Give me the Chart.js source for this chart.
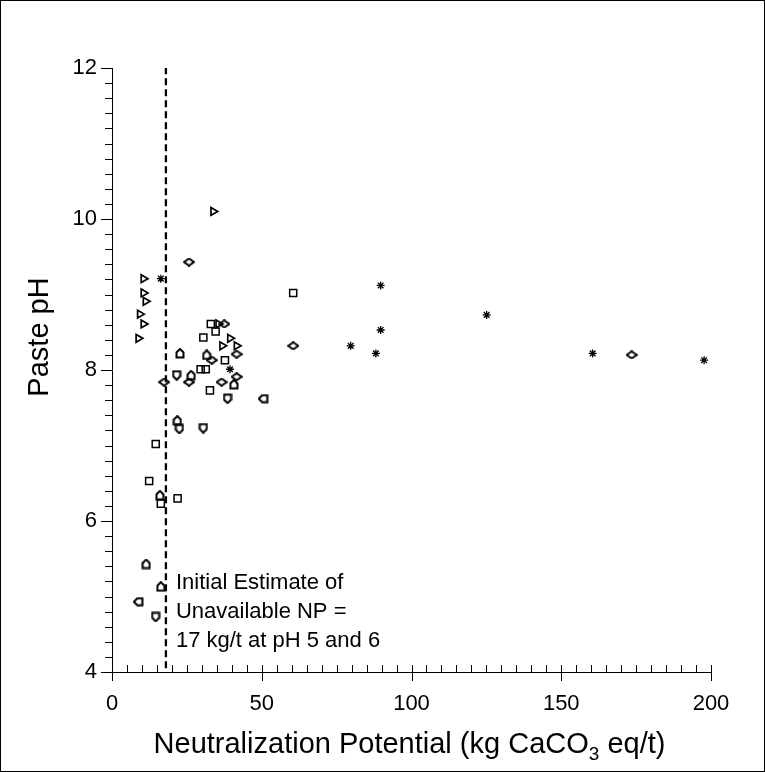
<!DOCTYPE html>
<html>
<head>
<meta charset="utf-8">
<title>Paste pH vs Neutralization Potential</title>
<script src="https://cdn.jsdelivr.net/npm/chart.js@4.4.1/dist/chart.umd.min.js"></script>
<style>
  html, body { margin: 0; padding: 0; background: #fff; }
  canvas { display: block; }
</style>
</head>
<body>
<canvas id="phChart" width="765" height="772"></canvas>
<script>
(function () {
  'use strict';

  /* ─── Data ─── */
  const squareNP   = [33.0, 34.6, 30.5, 37.7, 29.6, 31.3, 32.7, 14.6, 12.4, 16.3, 21.9, 60.5];
  const squarePH   = [8.61, 8.51, 8.43, 8.13, 8.01, 8.01, 7.73, 7.02, 6.53, 6.23, 6.30, 9.02];

  const triangleNP = [33.8, 10.5, 10.5, 11.2, 9.3, 10.5, 8.8, 39.4, 36.8, 41.6, 35.5];
  const trianglePH = [10.1, 9.21, 9.02, 8.91, 8.74, 8.61, 8.42, 8.42, 8.32, 8.32, 8.61];

  const diamondNP  = [25.7, 37.5, 41.6, 33.3, 41.6, 25.7, 17.4, 36.6, 60.5, 173.5];
  const diamondPH  = [9.43, 8.61, 8.21, 8.13, 7.91, 7.84, 7.84, 7.84, 8.32, 8.20];

  const starNP     = [16.3, 39.4, 89.7, 125.1, 89.7, 79.7, 88.1, 160.5, 197.7];
  const starPH     = [9.21, 8.01, 9.12, 8.73, 8.53, 8.32, 8.22, 8.22, 8.13];

  const pentNP     = [22.7, 31.6, 21.6, 26.4, 40.7, 38.6, 50.5, 21.8, 22.5, 30.5, 16.0, 11.4, 16.3, 8.8, 14.6];
  const pentPH     = [8.22, 8.20, 7.93, 7.93, 7.81, 7.62, 7.62, 7.33, 7.22, 7.23, 6.34, 5.43, 5.13, 4.93, 4.73];

  const UNAVAILABLE_NP = 18;
  const PH_RANGE       = [4, 12];
  const X_TICKS        = [0, 50, 100, 150, 200];
  const Y_TICKS        = [4, 6, 8, 10, 12];

  const NOTE_LINES = ['Initial Estimate of', 'Unavailable NP =', '17 kg/t at pH 5 and 6'];

  const FONT = "'Liberation Sans', Arial, sans-serif";
  const INK  = '#000';

  // orientation of the pentagon markers (style only)
  const pentTurn = [0, 0, 180, 0, 0, 180, 270, 0, 180, 180, 0, 0, 0, 270, 180];

  function pairs(xs, ys) {
    return xs.map(function (v, i) { return { x: v, y: ys[i] }; });
  }

  /* ─── Custom marker canvases ─── */
  function markerCanvas(w, h, draw) {
    const c = document.createElement('canvas');
    c.width = w; c.height = h;
    const g = c.getContext('2d');
    g.strokeStyle = INK;
    g.lineWidth = 2;
    g.lineJoin = 'miter';
    g.beginPath();
    draw(g, w, h);
    g.closePath();
    g.stroke();
    return c;
  }

  const diamondMark = markerCanvas(12, 9, function (g, w, h) {
    g.moveTo(1, h / 2); g.lineTo(w / 2, 1); g.lineTo(w - 1, h / 2); g.lineTo(w / 2, h - 1);
  });

  const pentMark = markerCanvas(10, 11, function (g, w, h) {
    g.moveTo(1.5, h - 1.5); g.lineTo(1.5, 4.5); g.lineTo(w / 2, 1); g.lineTo(w - 1.5, 4.5); g.lineTo(w - 1.5, h - 1.5);
  });

  /* ─── Plugins ─── */
  const frame = {
    id: 'frame',
    beforeDraw(chart) {
      const ctx = chart.ctx;
      ctx.save();
      ctx.fillStyle = '#fff';
      ctx.fillRect(0, 0, chart.width, chart.height);
      ctx.strokeStyle = INK;
      ctx.lineWidth = 1;
      ctx.strokeRect(0.5, 0.5, chart.width - 1, chart.height - 1);
      ctx.restore();
    }
  };

  const axisDecor = {
    id: 'axisDecor',
    afterDraw(chart) {
      const ctx = chart.ctx;
      const x = chart.scales.x;
      const y = chart.scales.y;
      ctx.save();
      ctx.strokeStyle = INK;
      ctx.lineWidth = 1;
      ctx.beginPath();
      // x: minor every 5, major every 50
      for (let v = 0; v <= 200; v += 5) {
        const px = Math.round(x.getPixelForValue(v)) + 0.5;
        const major = v % 50 === 0;
        ctx.moveTo(px, y.bottom - 7);
        ctx.lineTo(px, major ? y.bottom + 9 : y.bottom);
      }
      // y: minor every 0.2, major every 2
      for (let k = 0; k <= 40; k++) {
        const v = PH_RANGE[0] + k * 0.2;
        const py = Math.round(y.getPixelForValue(v)) + 0.5;
        const major = k % 10 === 0;
        ctx.moveTo(x.left - (major ? 11 : 7), py);
        ctx.lineTo(x.left, py);
      }
      ctx.stroke();

      ctx.fillStyle = INK;
      // y title
      ctx.save();
      ctx.translate(40, 337);
      ctx.rotate(-Math.PI / 2);
      ctx.font = '29px ' + FONT;
      ctx.textAlign = 'center';
      ctx.textBaseline = 'middle';
      ctx.fillText('Paste pH', 0, 0);
      ctx.restore();

      // x title with subscript
      const parts = ['Neutralization Potential (kg CaCO', '3', ' eq/t)'];
      ctx.textBaseline = 'alphabetic';
      ctx.font = '29px ' + FONT;
      const w1 = ctx.measureText(parts[0]).width;
      const w3 = ctx.measureText(parts[2]).width;
      ctx.font = '19px ' + FONT;
      const w2 = ctx.measureText(parts[1]).width;
      let tx = (x.left + x.right) / 2 - 2 - (w1 + w2 + w3) / 2;
      const base = 753;
      ctx.textAlign = 'left';
      ctx.font = '29px ' + FONT;
      ctx.fillText(parts[0], tx, base);
      tx += w1;
      ctx.font = '19px ' + FONT;
      ctx.fillText(parts[1], tx, base + 7);
      tx += w2;
      ctx.font = '29px ' + FONT;
      ctx.fillText(parts[2], tx, base);

      // note beside the dashed line
      ctx.font = '22px ' + FONT;
      ctx.textBaseline = 'middle';
      const noteX = x.getPixelForValue(UNAVAILABLE_NP) + 10;
      NOTE_LINES.forEach(function (line, i) {
        ctx.fillText(line, noteX, 583 + i * 29);
      });
      ctx.restore();
    }
  };

  function pointSet(label, xs, ys, style, radius, extra) {
    return Object.assign({
      type: 'scatter',
      label: label,
      data: pairs(xs, ys),
      pointStyle: style,
      pointRadius: radius,
      pointHoverRadius: radius,
      borderColor: INK,
      backgroundColor: 'rgba(0,0,0,0)',
      borderWidth: 1.5
    }, extra || {});
  }

  new Chart(document.getElementById('phChart'), {
    type: 'scatter',
    data: {
      datasets: [
        {
          type: 'line',
          label: 'Unavailable NP',
          data: [{ x: UNAVAILABLE_NP, y: PH_RANGE[0] + 0.05 }, { x: UNAVAILABLE_NP, y: PH_RANGE[1] }],
          borderColor: INK,
          borderWidth: 2.3,
          borderDash: [7, 4],
          pointRadius: 0,
          fill: false
        },
        pointSet('Square', squareNP, squarePH, 'rect', 5),
        pointSet('Triangle', triangleNP, trianglePH, 'triangle', 4.5, { rotation: 90, borderWidth: 1.7 }),
        pointSet('Diamond', diamondNP, diamondPH, diamondMark, 5),
        pointSet('Star', starNP, starPH, 'star', 4, { borderWidth: 1.3 }),
        pointSet('Pentagon', pentNP, pentPH, pentMark, 5, { rotation: pentTurn })
      ]
    },
    options: {
      responsive: false,
      animation: false,
      events: [],
      layout: { padding: { left: 0, right: 54, top: 68, bottom: 0 } },
      plugins: {
        legend: { display: false },
        tooltip: { enabled: false }
      },
      scales: {
        x: {
          type: 'linear',
          min: 0,
          max: 200,
          afterBuildTicks: function (s) { s.ticks = X_TICKS.map(function (v) { return { value: v }; }); },
          afterFit: function (s) { s.height = 100; },
          grid: { display: false, drawTicks: false },
          border: { display: true, color: INK, width: 1 },
          ticks: { color: INK, padding: 19, font: { family: FONT, size: 22 }, maxRotation: 0 }
        },
        y: {
          type: 'linear',
          min: PH_RANGE[0],
          max: PH_RANGE[1],
          afterBuildTicks: function (s) { s.ticks = Y_TICKS.map(function (v) { return { value: v }; }); },
          afterFit: function (s) { s.width = 112; },
          grid: { display: false, drawTicks: false },
          border: { display: true, color: INK, width: 1 },
          ticks: { color: INK, padding: 15, font: { family: FONT, size: 22 } }
        }
      }
    },
    plugins: [frame, axisDecor]
  });
})();
</script>
</body>
</html>
